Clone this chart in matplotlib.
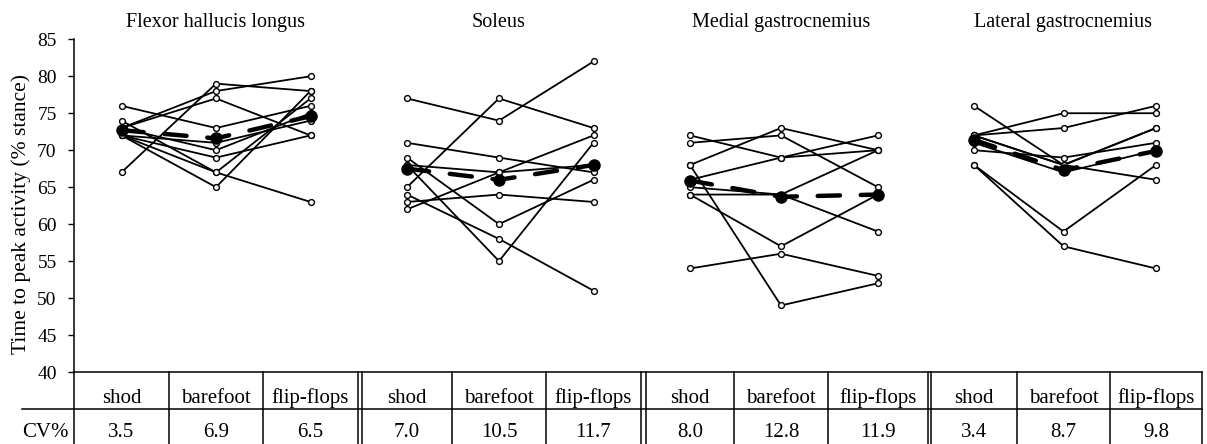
import matplotlib
matplotlib.use('Agg')
from matplotlib import pyplot as plt
from matplotlib.lines import Line2D

plt.rcParams['font.family'] = ['Liberation Serif', 'DejaVu Serif']
plt.rcParams['lines.scale_dashes'] = False

W, H = 1207, 444

###資料
muscles = ['Flexor hallucis longus', 'Soleus', 'Medial gastrocnemius', 'Lateral gastrocnemius']
conditions = ['shod', 'barefoot', 'flip-flops']
cv = [[3.5, 6.9, 6.5], [7.0, 10.5, 11.7], [8.0, 12.8, 11.9], [3.4, 8.7, 9.8]]

# one row per participant: shod, barefoot, flip-flops
fhl = [[67, 79, 78], [73, 78, 80], [76, 73, 76], [74, 67, 77], [72, 65, 78],
       [73, 77, 72], [72, 67, 63], [73, 70, 75], [72, 69, 72], [72, 71, 74]]
soleus = [[77, 74, 82], [65, 77, 73], [71, 69, 67], [69, 60, 66], [64, 58, 51],
          [63, 64, 63], [62, 67, 72], [68, 55, 71], [68, 67, 68]]
medial = [[72, 69, 70], [71, 72, 65], [68, 73, 70], [66, 69, 72], [65, 64, 59],
          [64, 57, 64], [54, 56, 53], [68, 49, 52], [64, 64, 70]]
lateral = [[76, 68, 66], [72, 75, 75], [72, 73, 76], [70, 69, 71], [68, 59, 68],
           [68, 57, 54], [72, 68, 73], [71, 67, 70], [72, 68, 73]]

# group means (thick dashed line)
fhl_mean = [72.7, 71.6, 74.6]
soleus_mean = [67.5, 66.0, 68.0]
medial_mean = [65.9, 63.7, 64.0]
lateral_mean = [71.4, 67.3, 69.9]

data = [fhl, soleus, medial, lateral]
means = [fhl_mean, soleus_mean, medial_mean, lateral_mean]

###版面 (pixel)
panel_edges = [[74, 169, 263, 358], [362, 452, 546, 641],
               [646, 734, 828, 928], [931, 1017, 1110, 1202]]
ax_top, ax_bot = 39.3, 372
row_mid, tab_bot = 409, 444


def fx(px):
    return px / W


def fy(py):
    return 1 - py / H


fig = plt.figure(figsize=(W / 100, H / 100), dpi=100)
ax = fig.add_axes([fx(74), fy(ax_bot), (1202 - 74) / W, (ax_bot - ax_top) / H])
ax.set_xlim(74, 1202)
ax.set_ylim(40, 85)
ax.set_yticks(range(40, 86, 5))
ax.set_xticks([])
ax.tick_params(axis='y', direction='out', length=4.5, width=1, pad=8, labelsize=14)
for s in ['top', 'right']:
    ax.spines[s].set_visible(False)
for s in ['left', 'bottom']:
    ax.spines[s].set_linewidth(1.1)

for k in range(4):
    e = panel_edges[k]
    xs = [(e[i] + e[i + 1]) / 2 for i in range(3)]
    for p in data[k]:
        ax.plot(xs, p, color='black', lw=1.3, marker='o', ms=4.2,
                mfc='white', mec='black', mew=1.0, zorder=2)
    ax.plot(xs, means[k], color='black', lw=3.2, dashes=(16, 15),
            dash_capstyle='round', marker='o', ms=8, zorder=4)
    # 標題
    fig.text(fx(xs[1]), fy(27), muscles[k], ha='center', va='baseline', fontsize=14.5)
    # 表格文字
    for i in range(3):
        fig.text(fx(xs[i]), fy(403), conditions[i], ha='center', va='baseline', fontsize=15)
        fig.text(fx(xs[i]), fy(437), '%.1f' % cv[k][i], ha='center', va='baseline', fontsize=15)

fig.text(fx(45), fy(437), 'CV%', ha='center', va='baseline', fontsize=15)
fig.text(fx(21), fy(214), 'Time to peak activity (% stance)',
         rotation=90, ha='center', va='center', fontsize=15.5)

###表格線
lines = [Line2D([fx(22), fx(1202)], [fy(row_mid), fy(row_mid)])]
for e in panel_edges:
    for px in e:
        lines.append(Line2D([fx(px), fx(px)], [fy(ax_bot), fy(tab_bot)]))
for ln in lines:
    ln.set_color('black')
    ln.set_linewidth(1.1)
    fig.add_artist(ln)

fig.savefig('out.png', dpi=100)
